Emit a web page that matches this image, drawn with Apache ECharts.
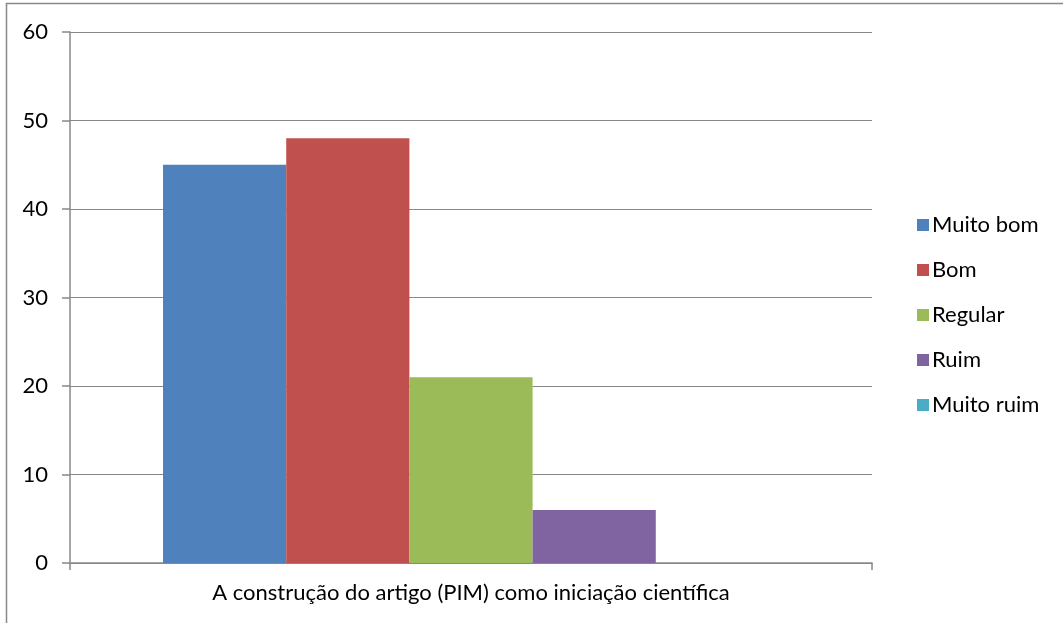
<!DOCTYPE html>
<html>
<head>
<meta charset="utf-8">
<script src="https://cdn.jsdelivr.net/npm/echarts@6/dist/echarts.min.js"></script>
<style>
html, body { margin: 0; padding: 0; background: #fff; }
#echart { width: 1063px; height: 623px; }
</style>
</head>
<body>
<div id="echart"></div>
<script>
var categories = ['A construção do artigo (PIM) como iniciação científica'];
var seriesNames = ['Muito bom', 'Bom', 'Regular', 'Ruim', 'Muito ruim'];
var seriesValues = [45, 48, 21, 6, 0];
var colors = ['#4F81BD', '#C0504D', '#9BBB59', '#8064A2', '#4BACC6'];
var yTicks = [0, 10, 20, 30, 40, 50, 60];

var font = 'Lato, "Open Sans", sans-serif';
var myChart = echarts.init(document.getElementById('echart'));

var series = [];
for (var i = 0; i < seriesNames.length; i++) {
    series.push({
        name: seriesNames[i],
        type: 'bar',
        data: [seriesValues[i]],
        itemStyle: {color: colors[i]},
        barGap: '0%',
        barCategoryGap: '23.2%'
    });
}

var option = {
    animation: false,
    graphic: [{
        type: 'rect',
        shape: {x: 6.5, y: 3.5, width: 1070, height: 640},
        style: {fill: 'none', stroke: '#888', lineWidth: 1.5},
        silent: true
    }],
    grid: {left: 70, right: 191, top: 32, bottom: 60},
    legend: {
        orient: 'vertical',
        left: 912,
        top: 209,
        itemWidth: 12,
        itemHeight: 12,
        itemGap: 23,
        icon: 'rect',
        data: seriesNames,
        textStyle: {fontFamily: font, fontSize: 22, color: '#000', lineHeight: 22, padding: [0, 0, 0, -2]}
    },
    xAxis: {
        type: 'category',
        data: categories,
        axisLine: {lineStyle: {color: '#888', width: 1.5}},
        axisTick: {show: true, length: 7, lineStyle: {color: '#888', width: 1.5}},
        axisLabel: {fontFamily: font, fontSize: 22, color: '#000', margin: 19}
    },
    yAxis: {
        type: 'value',
        min: yTicks[0],
        max: yTicks[yTicks.length - 1],
        interval: 10,
        axisLine: {show: true, lineStyle: {color: '#888', width: 1.5}},
        axisTick: {show: true, length: 8, lineStyle: {color: '#888', width: 1.5}},
        axisLabel: {fontFamily: font, fontSize: 22, color: '#000', margin: 22},
        splitLine: {lineStyle: {color: '#888', width: 1}}
    },
    series: series
};
myChart.setOption(option);
</script>
</body>
</html>
